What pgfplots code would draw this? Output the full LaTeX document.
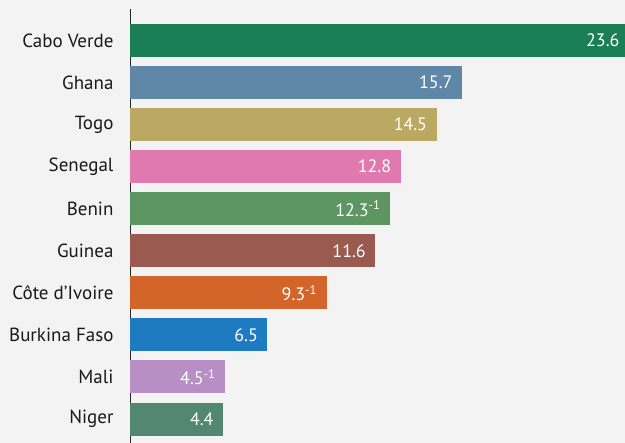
\documentclass[border=0pt]{standalone}
\usepackage{pgfplots}
\pgfplotsset{compat=1.18}
\usepackage{fontspec}
\setmainfont{PT Sans}
\definecolor{bgc}{HTML}{F2F3F2}
\definecolor{cCV}{HTML}{1B7F55}
\definecolor{cGH}{HTML}{5F87A8}
\definecolor{cTG}{HTML}{BBA863}
\definecolor{cSN}{HTML}{E07AAE}
\definecolor{cBJ}{HTML}{5E9663}
\definecolor{cGN}{HTML}{9A5A4F}
\definecolor{cCI}{HTML}{D4652A}
\definecolor{cBF}{HTML}{1F7BC1}
\definecolor{cML}{HTML}{B78FC4}
\definecolor{cNE}{HTML}{528774}
\begin{document}
\begin{tikzpicture}[x=1pt,y=1pt]
\useasboundingbox (0,0) rectangle (625,443);
\clip (0,0) rectangle (625,443);
\fill[bgc] (0,0) rectangle (625,443);
\begin{axis}[
  at={(130pt,0pt)}, anchor=south west,
  scale only axis, width=499pt, height=434pt,
  xmin=0, xmax=23.6, ymin=-0.57, ymax=9.75,
  xbar, bar width=33pt, bar shift=0pt,
  axis x line=none, axis y line=left,
  y axis line style={-, draw=black!85, line width=0.9pt},
  ytick={0,...,9},
  yticklabels={Niger,Mali,Burkina Faso,Côte d’Ivoire,Guinea,Benin,Senegal,Togo,Ghana,Cabo Verde},
  major tick length=0pt,
  yticklabel style={font=\fontsize{19}{21}\selectfont, text=black!90, xshift=-13pt},
  point meta=explicit symbolic,
  nodes near coords,
  every node near coord/.append style={anchor=east, text=white, font=\fontsize{18}{20}\selectfont, xshift=-6pt},
  every axis plot/.append style={draw=none},
]
\addplot[fill=cCV] coordinates {(23.6,9) [23.6]};
\addplot[fill=cGH] coordinates {(15.7,8) [15.7]};
\addplot[fill=cTG] coordinates {(14.5,7) [14.5]};
\addplot[fill=cSN] coordinates {(12.8,6) [12.8]};
\addplot[fill=cBJ] coordinates {(12.3,5) [12.3\textsuperscript{-1}]};
\addplot[fill=cGN] coordinates {(11.6,4) [11.6]};
\addplot[fill=cCI] coordinates {(9.3,3) [9.3\textsuperscript{-1}]};
\addplot[fill=cBF] coordinates {(6.5,2) [6.5]};
\addplot[fill=cML] coordinates {(4.5,1) [4.5\textsuperscript{-1}]};
\addplot[fill=cNE] coordinates {(4.4,0) [4.4]};
\end{axis}
\end{tikzpicture}
\end{document}
